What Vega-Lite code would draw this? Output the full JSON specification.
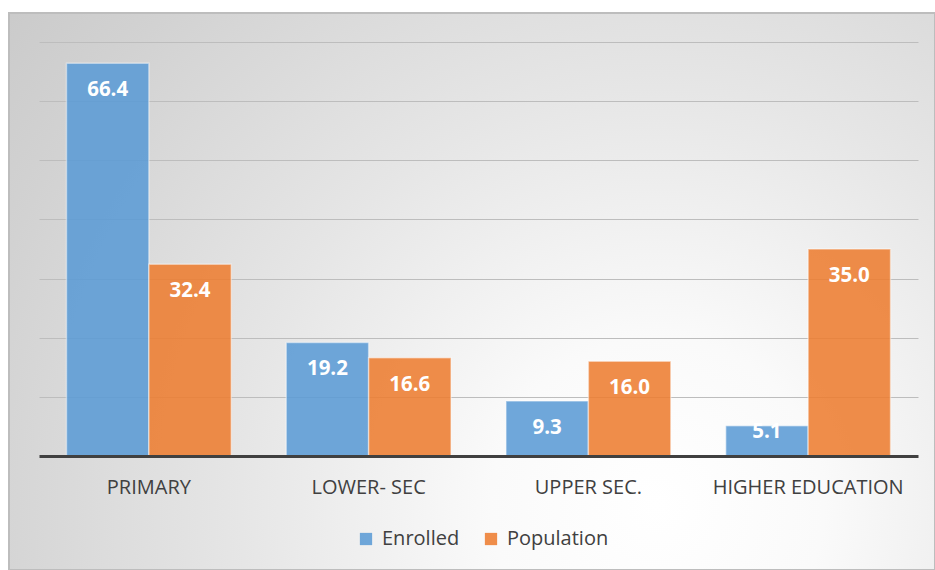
{
  "$schema": "https://vega.github.io/schema/vega-lite/v6.json",
  "width": 926,
  "height": 557,
  "autosize": {"type": "none"},
  "padding": {"left": 9, "top": 13, "right": 0, "bottom": 0},
  "background": "#ffffff",
  "data": {
    "values": [
      {"level": "PRIMARY", "series": "Enrolled", "value": 66.4},
      {"level": "PRIMARY", "series": "Population", "value": 32.4},
      {"level": "LOWER- SEC", "series": "Enrolled", "value": 19.2},
      {"level": "LOWER- SEC", "series": "Population", "value": 16.6},
      {"level": "UPPER SEC.", "series": "Enrolled", "value": 9.3},
      {"level": "UPPER SEC.", "series": "Population", "value": 16.0},
      {"level": "HIGHER EDUCATION", "series": "Enrolled", "value": 5.1},
      {"level": "HIGHER EDUCATION", "series": "Population", "value": 35.0}
    ]
  },
  "encoding": {
    "x": {
      "field": "level",
      "type": "nominal",
      "sort": null,
      "title": null,
      "scale": {"range": [30, 909], "paddingInner": 0.25, "paddingOuter": 0.125},
      "axis": {
        "orient": "bottom",
        "offset": -114,
        "zindex": 2,
        "domainColor": "#404040",
        "domainWidth": 3,
        "ticks": false,
        "labelAngle": 0,
        "labelLimit": 0,
        "labelPadding": 21,
        "labelFont": "Open Sans",
        "labelFontSize": 20,
        "labelColor": "#404040"
      }
    },
    "xOffset": {"field": "series", "type": "nominal"},
    "y": {
      "field": "value",
      "type": "quantitative",
      "title": null,
      "scale": {"domain": [-19.28, 74.9], "nice": false, "zero": false},
      "axis": {
        "values": [10, 20, 30, 40, 50, 60, 70],
        "grid": true,
        "gridColor": "#bdbdbd",
        "gridWidth": 1.2,
        "labels": false,
        "ticks": false,
        "domain": false
      }
    }
  },
  "layer": [
    {
      "mark": {"type": "bar", "fillOpacity": 0.88, "stroke": "#ffffff", "strokeOpacity": 0.45, "strokeWidth": 1.5},
      "encoding": {
        "color": {
          "field": "series",
          "type": "nominal",
          "scale": {"domain": ["Enrolled", "Population"], "range": ["#5B9BD5", "#ED7D31"]},
          "legend": {
            "title": null,
            "orient": "none",
            "direction": "horizontal",
            "legendX": 347,
            "legendY": 516,
            "padding": 0,
            "symbolType": "square",
            "symbolSize": 150,
            "symbolStrokeWidth": 0,
            "symbolOpacity": 0.88,
            "labelFont": "Open Sans",
            "labelFontSize": 20,
            "labelColor": "#404040",
            "labelOffset": 6,
            "columnPadding": 21
          }
        }
      }
    },
    {
      "transform": [{"filter": "datum.value >= 8"}],
      "mark": {"type": "text", "baseline": "middle", "dy": 27, "color": "#ffffff", "font": "Open Sans", "fontWeight": "bold", "fontSize": 20.5},
      "encoding": {"text": {"field": "value", "type": "quantitative", "format": ".1f"}}
    },
    {
      "transform": [{"filter": "datum.value < 8"}],
      "mark": {"type": "text", "baseline": "middle", "dy": 6, "color": "#ffffff", "font": "Open Sans", "fontWeight": "bold", "fontSize": 20.5},
      "encoding": {"text": {"field": "value", "type": "quantitative", "format": ".1f"}}
    }
  ],
  "config": {
    "view": {
      "fill": {
        "gradient": "radial",
        "x1": 0.7, "y1": 0.73, "r1": 0,
        "x2": 0.7, "y2": 0.73, "r2": 1,
        "stops": [
          {"offset": 0, "color": "#ffffff"},
          {"offset": 0.18, "color": "#fafafa"},
          {"offset": 0.45, "color": "#e6e6e6"},
          {"offset": 0.75, "color": "#d2d2d2"},
          {"offset": 1, "color": "#c4c4c4"}
        ]
      },
      "stroke": "#bdbdbd",
      "strokeWidth": 2
    }
  }
}
